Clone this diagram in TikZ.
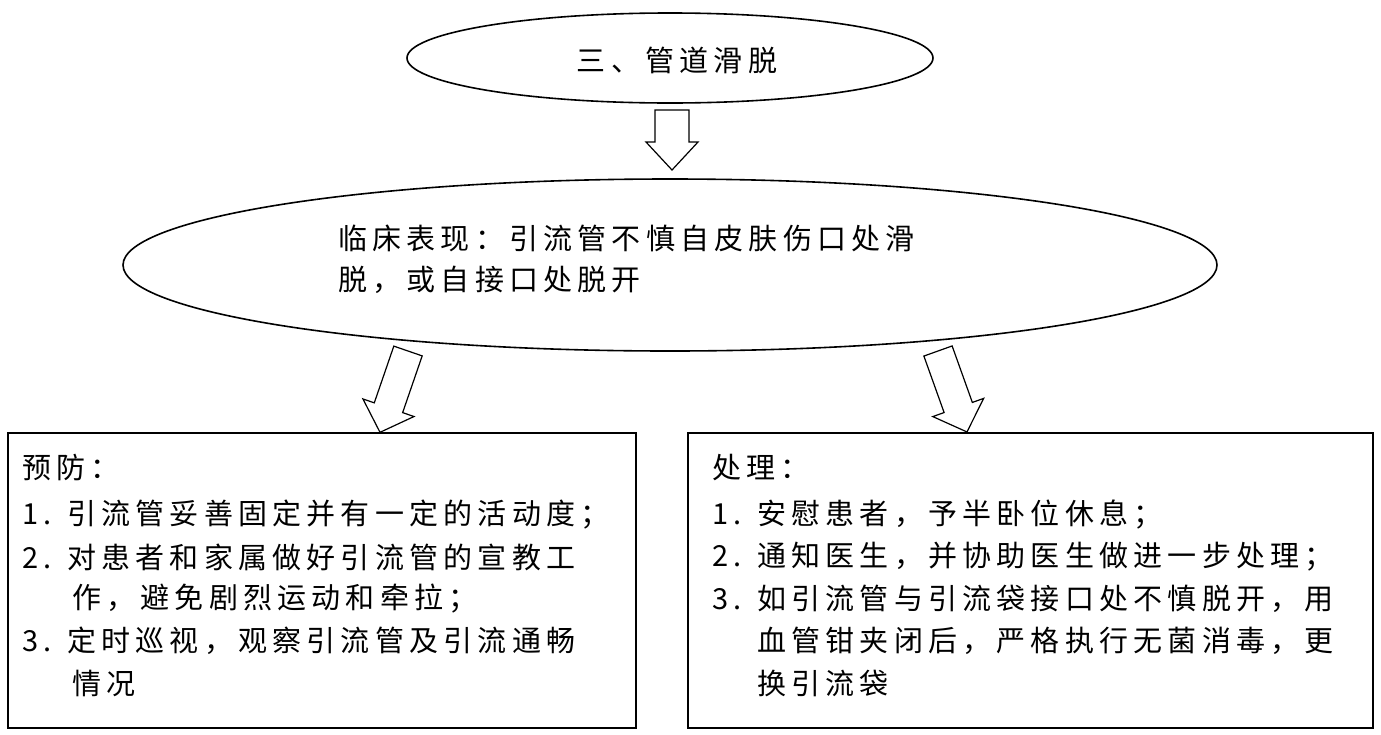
\documentclass[tikz,border=0pt]{standalone}
\usepackage{fontspec}
\setmainfont{Liberation Serif}
\newfontfamily\cjk{Noto Sans CJK SC}[LetterSpace=18]
\begin{document}
\begin{tikzpicture}[x=1pt,y=-1pt,
  shp/.style={draw,line width=1.6pt,fill=white},
  txt/.style={anchor=west,inner sep=0pt,font=\fontsize{29pt}{32pt}\cjk},
  ha/.style={draw,line width=1.2pt,fill=white}]
\useasboundingbox (0,0) rectangle (1381,734);
\draw[shp] (670,58) ellipse[x radius=263,y radius=45];
\node[txt,anchor=center] (t1) at (677,60) {三、管道滑脱};
\draw[shp] (670,265) ellipse[x radius=547,y radius=86];
\node[txt] (t2a) at (338,238) {临床表现：引流管不慎自皮肤伤口处滑};
\node[txt] (t2b) at (338,280) {脱，或自接口处脱开};
\draw[ha,shift={(672,110)}] (-17pt,0pt) -- (-17pt,-32pt) -- (-26pt,-32pt) -- (0pt,-60pt) -- (26pt,-32pt) -- (17pt,-32pt) -- (17pt,0pt) -- cycle;
\draw[ha,shift={(408,351)},rotate=-19] (-15pt,0pt) -- (-15pt,-60pt) -- (-27pt,-60pt) -- (0pt,-86pt) -- (27pt,-60pt) -- (15pt,-60pt) -- (15pt,0pt) -- cycle;
\draw[ha,shift={(938,351)},rotate=19.7] (-15pt,0pt) -- (-15pt,-60pt) -- (-27pt,-60pt) -- (0pt,-86pt) -- (27pt,-60pt) -- (15pt,-60pt) -- (15pt,0pt) -- cycle;
\draw[shp] (8,433) rectangle (636,728);
\draw[shp] (688,433) rectangle (1373,728);
\node[txt] (l0) at (22,468) {预防：};
\node[txt] (l1) at (22,515) {1. 引流管妥善固定并有一定的活动度；};
\node[txt] (l2) at (22,557) {2. 对患者和家属做好引流管的宣教工};
\node[txt] (l3) at (72,599) {作，避免剧烈运动和牵拉；};
\node[txt] (l4) at (22,641) {3. 定时巡视，观察引流管及引流通畅};
\node[txt] (l5) at (72,683) {情况};
\node[txt] (r0) at (712,468) {处理：};
\node[txt] (r1) at (712,515) {1. 安慰患者，予半卧位休息；};
\node[txt] (r2) at (712,557) {2. 通知医生，并协助医生做进一步处理；};
\node[txt] (r3) at (712,599) {3. 如引流管与引流袋接口处不慎脱开，用};
\node[txt] (r4) at (757,641) {血管钳夹闭后，严格执行无菌消毒，更};
\node[txt] (r5) at (757,683) {换引流袋};
\end{tikzpicture}
\end{document}
